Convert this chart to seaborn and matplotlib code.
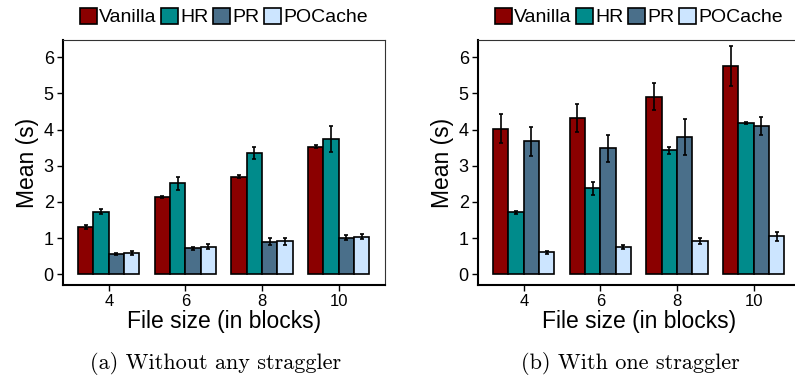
import pandas as pd
import numpy as np
import seaborn as sns
import matplotlib.pyplot as plt
from matplotlib.patches import Patch

# data
sizes = ['4', '6', '8', '10']
methods = ['Vanilla', 'HR', 'PR', 'POCache']
colors = ['#8B0000', '#008B8B', '#4A6F8A', '#CCE5FF']

# (a) without any straggler
a_vanilla = [1.31, 2.14, 2.70, 3.52]
a_hr = [1.73, 2.51, 3.36, 3.73]
a_pr = [0.56, 0.71, 0.90, 1.01]
a_pocache = [0.59, 0.76, 0.91, 1.03]
a_vanilla_err = [0.05, 0.03, 0.04, 0.04]
a_hr_err = [0.06, 0.18, 0.17, 0.36]
a_pr_err = [0.02, 0.04, 0.10, 0.07]
a_pocache_err = [0.05, 0.07, 0.09, 0.07]

# (b) with one straggler
b_vanilla = [4.02, 4.31, 4.91, 5.75]
b_hr = [1.71, 2.37, 3.43, 4.19]
b_pr = [3.67, 3.48, 3.79, 4.10]
b_pocache = [0.60, 0.76, 0.92, 1.05]
b_vanilla_err = [0.40, 0.39, 0.37, 0.55]
b_hr_err = [0.05, 0.18, 0.10, 0.03]
b_pr_err = [0.40, 0.38, 0.49, 0.24]
b_pocache_err = [0.03, 0.06, 0.09, 0.12]

captions = ['(a) Without any straggler', '(b) With one straggler']


def make_df(vals):
    rows = []
    for m, v in zip(methods, vals):
        for s, y in zip(sizes, v):
            rows.append({'size': s, 'method': m, 'mean': y})
    return pd.DataFrame(rows)


df_a = make_df([a_vanilla, a_hr, a_pr, a_pocache])
df_b = make_df([b_vanilla, b_hr, b_pr, b_pocache])
err_a = [a_vanilla_err, a_hr_err, a_pr_err, a_pocache_err]
err_b = [b_vanilla_err, b_hr_err, b_pr_err, b_pocache_err]

sns.set_theme(style='white')
plt.rcParams['font.family'] = ['Liberation Sans', 'DejaVu Sans']
plt.rcParams['text.color'] = 'black'
plt.rcParams['axes.labelcolor'] = 'black'
plt.rcParams['xtick.color'] = 'black'
plt.rcParams['ytick.color'] = 'black'

fig = plt.figure(figsize=(7.95, 3.8), dpi=100)
ax_a = fig.add_axes([0.079, 0.25, 0.405, 0.645])
ax_b = fig.add_axes([0.601, 0.25, 0.405, 0.645])

for ax, df, errs, cap in [(ax_a, df_a, err_a, captions[0]), (ax_b, df_b, err_b, captions[1])]:
    sns.barplot(data=df, x='size', y='mean', hue='method', order=sizes,
                hue_order=methods, palette=colors, saturation=1, errorbar=None,
                edgecolor='black', linewidth=1.2, width=0.8, legend=False, ax=ax)
    # error bars at each bar centre (patches go hue by hue)
    bars = ax.patches
    for k, bar in enumerate(bars):
        m = k // len(sizes)
        s = k % len(sizes)
        xc = bar.get_x() + bar.get_width() / 2
        ax.errorbar(xc, bar.get_height(), yerr=errs[m][s], color='black',
                    elinewidth=1.2, capsize=1.5, capthick=1.2)
    ax.set_xlim(-0.6, 3.6)
    ax.set_ylim(-0.3, 6.48)
    ax.set_yticks([0, 1, 2, 3, 4, 5, 6])
    ax.set_xlabel('File size (in blocks)', fontsize=16.5, labelpad=1)
    ax.set_ylabel('Mean (s)', fontsize=16.5, labelpad=3)
    ax.tick_params(axis='both', which='both', direction='out', length=4.5,
                   width=1, color='black', bottom=True, left=True)
    ax.tick_params(axis='y', labelsize=13, pad=2)
    ax.tick_params(axis='x', labelsize=12, pad=2)
    for side in ['left', 'bottom']:
        ax.spines[side].set_linewidth(1.5)
        ax.spines[side].set_color('black')
    for side in ['top', 'right']:
        ax.spines[side].set_linewidth(0.8)
        ax.spines[side].set_color('#333333')
    handles = [Patch(facecolor=c, edgecolor='black', linewidth=1.2) for c in colors]
    ax.legend(handles, methods, loc='lower center', bbox_to_anchor=(0.5, 1.0),
              ncol=4, frameon=False, fontsize=14, handlelength=0.85,
              handleheight=0.9, handletextpad=0.12, columnspacing=0.25,
              borderaxespad=0.3)
    pos = ax.get_position()
    fig.text((pos.x0 + pos.x1) / 2 - 0.01, 0.012, cap, ha='center', va='bottom',
             fontsize=16, family=['cmr10'])

plt.savefig('out.png', dpi=100)
plt.close()
